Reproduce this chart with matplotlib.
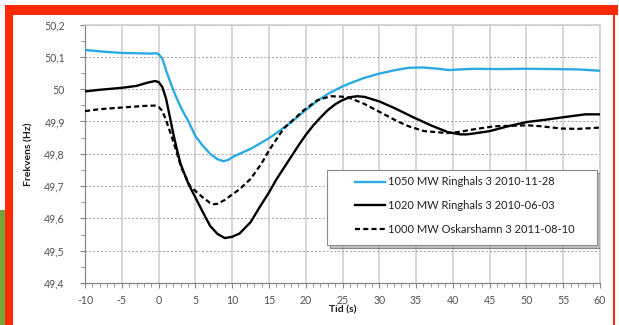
import matplotlib
matplotlib.use("Agg")
import matplotlib.pyplot as plt
from matplotlib.patches import Rectangle, Shadow
from matplotlib.ticker import MultipleLocator, FuncFormatter

plt.rcParams['font.family'] = ['Lato', 'DejaVu Sans']

# Ringhals 3, 2010-11-28 (1050 MW)
t_blue = [-10, -7, -5, -3, -1, -0.3, 0, 0.5, 1, 1.5, 2, 2.5, 3, 3.5, 4, 5, 6, 7, 8,
          8.8, 9.5, 10, 11, 12.5, 13.5, 15, 16.5, 18, 20, 21.5, 23, 24.7, 26, 28,
          30, 32, 34, 36, 38, 39.5, 41, 43, 46, 50, 54, 57, 60]
f_blue = [50.121, 50.115, 50.112, 50.111, 50.110, 50.111, 50.108, 50.095, 50.059,
          50.028, 49.997, 49.970, 49.945, 49.923, 49.903, 49.855, 49.825, 49.800,
          49.783, 49.777, 49.781, 49.789, 49.800, 49.815, 49.828, 49.848, 49.872,
          49.897, 49.935, 49.962, 49.985, 50.005, 50.018, 50.035, 50.048, 50.058,
          50.066, 50.067, 50.063, 50.059, 50.061, 50.063, 50.062, 50.063, 50.062,
          50.061, 50.057]

# Ringhals 3, 2010-06-03 (1020 MW)
t_black = [-10, -8, -5, -3, -1.5, -0.5, 0, 0.5, 1, 1.5, 2, 2.5, 3, 4, 4.3, 5, 6, 7,
           8, 9, 10, 11, 12.5, 13.75, 15, 16, 17, 18, 19, 20, 21, 22, 23, 24, 25,
           26, 27, 28, 30, 32, 34.7, 37, 39.3, 41, 42, 45, 47.5, 50, 52.5, 55, 58, 60]
f_black = [49.993, 49.998, 50.004, 50.010, 50.020, 50.025, 50.022, 50.007, 49.972,
           49.918, 49.862, 49.812, 49.768, 49.710, 49.696, 49.665, 49.620, 49.577,
           49.552, 49.539, 49.543, 49.553, 49.588, 49.635, 49.680, 49.720, 49.755,
           49.790, 49.825, 49.858, 49.887, 49.912, 49.935, 49.953, 49.966, 49.975,
           49.978, 49.976, 49.962, 49.942, 49.912, 49.888, 49.867, 49.860, 49.860,
           49.870, 49.885, 49.898, 49.905, 49.913, 49.922, 49.922]

# Oskarshamn 3, 2011-08-10 (1000 MW)
t_dash = [-10, -8, -5, -2, -0.5, 0, 0.5, 1, 1.5, 2, 2.5, 3, 4, 4.3, 5, 6, 7, 7.5, 8,
          9, 10, 11, 12.5, 14, 15, 17, 19.7, 21.6, 23.4, 25.6, 27.9, 30, 32.5, 34,
          36.1, 39.3, 41, 42.4, 45.6, 50.2, 52, 54.7, 57, 60]
f_dash = [49.932, 49.938, 49.943, 49.948, 49.949, 49.945, 49.933, 49.905, 49.872,
          49.838, 49.802, 49.762, 49.712, 49.699, 49.685, 49.665, 49.648, 49.644,
          49.645, 49.657, 49.674, 49.690, 49.722, 49.770, 49.810, 49.878, 49.934,
          49.966, 49.978, 49.976, 49.955, 49.930, 49.900, 49.885, 49.870, 49.864,
          49.868, 49.874, 49.885, 49.888, 49.885, 49.878, 49.877, 49.881]

series_labels = ["1050 MW Ringhals 3 2010-11-28",
                 "1020 MW Ringhals 3 2010-06-03",
                 "1000 MW Oskarshamn 3 2011-08-10"]

x_ticks = list(range(-10, 61, 5))
y_ticks = [49.4, 49.5, 49.6, 49.7, 49.8, 49.9, 50.0, 50.1, 50.2]

fig = plt.figure(figsize=(6.19, 3.25), dpi=100)
fig.patch.set_facecolor('white')

# slide frame behind the chart
red = '#FF2A00'
fig.patches.append(Rectangle((0, 0), 5/619, 115/325, transform=fig.transFigure,
                             facecolor='#78A33B', edgecolor='none', zorder=0))
fig.patches.append(Rectangle((5/619, 1 - 15/325), 613/619, 9.5/325,
                             transform=fig.transFigure, facecolor=red,
                             edgecolor='none', zorder=0))
fig.patches.append(Rectangle((5/619, 0), 8/619, 1 - 5.5/325,
                             transform=fig.transFigure, facecolor=red,
                             edgecolor='none', zorder=0))
fig.patches.append(Rectangle((613/619, 0), 2.2/619, 1 - 5.5/325,
                             transform=fig.transFigure, facecolor=red,
                             edgecolor='none', zorder=0))

ax = fig.add_axes([85/619, 1 - 283/325, 515/619, 258.5/325])

blue = '#2CAAE2'
ax.plot(t_blue, f_blue, color=blue, lw=1.7, label=series_labels[0], zorder=3)
ax.plot(t_black, f_black, color='black', lw=1.7, label=series_labels[1], zorder=3)
ax.plot(t_dash, f_dash, color='black', lw=1.6, ls=(0, (2.3, 1.4)),
        label=series_labels[2], zorder=3)

ax.set_xlim(-10, 60)
ax.set_ylim(49.4, 50.2)
ax.set_xticks(x_ticks)
ax.set_yticks(y_ticks)
ax.xaxis.set_minor_locator(MultipleLocator(1))
ax.yaxis.set_minor_locator(MultipleLocator(0.05))
ax.yaxis.set_major_formatter(FuncFormatter(lambda v, p: f"{v:g}".replace('.', ',')))
ax.xaxis.set_major_formatter(FuncFormatter(lambda v, p: f"{v:g}"))

ax.tick_params(axis='both', which='both', direction='out', color='#868686',
               labelcolor='#505050', labelsize=7.6)
ax.tick_params(axis='y', which='major', length=3.5, pad=11)
ax.tick_params(axis='y', which='minor', length=3)
ax.tick_params(axis='x', which='major', length=3.5, pad=5)
ax.tick_params(axis='x', which='minor', length=3)

ax.grid(axis='x', which='major', color='#D0D0D0', lw=1.2, ls='-', zorder=0)
ax.grid(axis='y', which='major', color='#A0A0A0', lw=0.7, ls=(0, (2, 2)), zorder=0)
ax.set_axisbelow(True)

for side in ['top', 'right']:
    ax.spines[side].set_color('#D0D0D0')
    ax.spines[side].set_linewidth(1.2)
for side in ['left', 'bottom']:
    ax.spines[side].set_color('#868686')
    ax.spines[side].set_linewidth(0.9)

ax.set_ylabel("Frekvens (Hz)", fontsize=7.5, fontweight='bold', color='#202020',
              labelpad=8)
ax.set_xlabel("Tid (s)", fontsize=7.5, fontweight='bold', color='#202020',
              labelpad=-0.5)

# legend box with shadow
box = Rectangle((0.47, 0.147), 0.524, 0.29, transform=ax.transAxes,
                facecolor='white', edgecolor='#8C8C8C', lw=0.8, zorder=5)
shadow = Shadow(box, 0.004, -0.008, facecolor='#9A9A9A', alpha=0.6, zorder=4.5)
ax.add_patch(shadow)
ax.add_patch(box)

leg = ax.legend(loc='upper left', bbox_to_anchor=(0.5243, 0.412), frameon=False,
                borderpad=0, borderaxespad=0, fontsize=8, handlelength=2.7,
                handletextpad=0.3, labelspacing=1.15)
leg.set_zorder(6)
for txt in leg.get_texts():
    txt.set_color('#202020')

fig.savefig("out.png", dpi=100, facecolor='white')
